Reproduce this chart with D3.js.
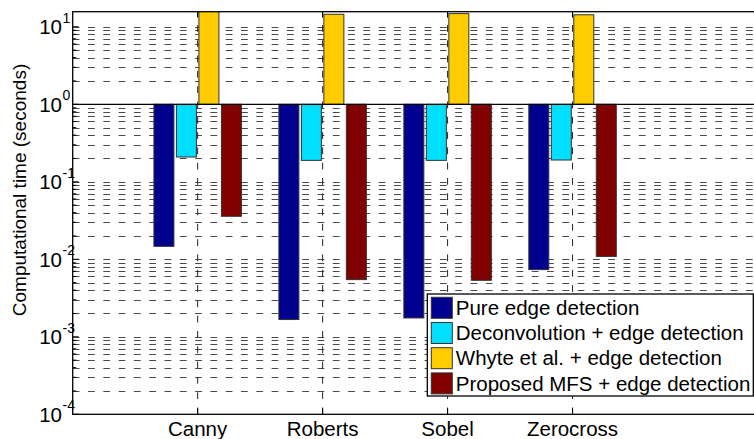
<!DOCTYPE html>
<html>
<head>
<meta charset="utf-8">
<script src="https://cdn.jsdelivr.net/npm/d3@7"></script>
<style>
  body { margin: 0; background: #fff; }
  svg { display: block; font-family: "Liberation Sans", Arial, sans-serif; }
</style>
</head>
<body>
<svg id="chart" width="754" height="439"></svg>
<script>
// data (seconds, log scale, bars grow from 10^0)
const categories = ["Canny", "Roberts", "Sobel", "Zerocross"];
const seriesNames = [
  "Pure edge detection",
  "Deconvolution + edge detection",
  "Whyte et al. + edge detection",
  "Proposed MFS + edge detection",
];
const pureEdge = [0.0147, 0.00167, 0.00175, 0.00736];
const deconv = [0.209, 0.189, 0.189, 0.191];
const whyte = [17, 14.5, 14.8, 14.3];
const proposed = [0.0359, 0.00547, 0.00536, 0.0109];
const tickExponents = [-4, -3, -2, -1, 0, 1];
const seriesColors = ["#00008f", "#00dfff", "#ffcc00", "#800000"];

const allSeries = [pureEdge, deconv, whyte, proposed];

const svg = d3.select("#chart");
const plotLeft = 72.7;
const plotTop = 11.7;
const plotBottom = 414.3;
const plotRight = 760;

const x = d3.scaleLinear().domain([0, 5.5]).range([plotLeft, plotRight]);
const y = d3.scaleLog().domain([1e-4, 15.66]).range([plotBottom, plotTop]);

const barWidth = 0.16;
const barStep = 0.18;
const dash = "6.8,8.5";

svg.append("clipPath").attr("id", "plotClip")
  .append("rect")
  .attr("x", plotLeft).attr("y", plotTop)
  .attr("width", plotRight - plotLeft).attr("height", plotBottom - plotTop);

const plot = svg.append("g").attr("clip-path", "url(#plotClip)");

//grid lines
const gridValues = y.ticks().filter((v) => v > 1.0001e-4 && Math.abs(v - 1) > 1e-9);
plot.selectAll(".hgrid")
  .data(gridValues)
  .join("line")
  .attr("x1", plotLeft).attr("x2", plotRight)
  .attr("y1", (d) => Math.round(y(d)) + 0.5)
  .attr("y2", (d) => Math.round(y(d)) + 0.5)
  .attr("stroke", "#4a4a4a")
  .attr("stroke-width", 1)
  .attr("stroke-dasharray", dash);

plot.selectAll(".vgrid")
  .data(categories)
  .join("line")
  .attr("x1", (d, i) => x(i + 1)).attr("x2", (d, i) => x(i + 1))
  .attr("y1", plotBottom).attr("y2", plotTop)
  .attr("stroke", "#222")
  .attr("stroke-width", 1)
  .attr("stroke-dasharray", dash);

//bars
allSeries.forEach((values, s) => {
  const offset = (s - 1.5) * barStep;
  plot.selectAll(".bar" + s)
    .data(values)
    .join("rect")
    .attr("x", (d, i) => x(i + 1 + offset - barWidth / 2))
    .attr("width", x(barWidth) - x(0))
    .attr("y", (d) => Math.min(y(d), y(1)))
    .attr("height", (d) => Math.abs(y(d) - y(1)))
    .attr("fill", seriesColors[s])
    .attr("stroke", "#333")
    .attr("stroke-width", 1);
});

// baseline at 10^0
svg.append("line")
  .attr("x1", plotLeft).attr("x2", plotRight)
  .attr("y1", y(1)).attr("y2", y(1))
  .attr("stroke", "#000")
  .attr("stroke-width", 1.2);

//axes box
svg.append("rect")
  .attr("x", plotLeft).attr("y", plotTop)
  .attr("width", plotRight - plotLeft).attr("height", plotBottom - plotTop)
  .attr("fill", "none")
  .attr("stroke", "#000")
  .attr("stroke-width", 1.3);

// y ticks (inside)
const isMajor = (v) => Math.abs(Math.log10(v) - Math.round(Math.log10(v))) < 1e-9;
svg.selectAll(".ytick")
  .data(y.ticks().filter((v) => v <= 15.66))
  .join("line")
  .attr("x1", plotLeft)
  .attr("x2", (d) => plotLeft + (isMajor(d) ? 6 : 3.5))
  .attr("y1", (d) => y(d)).attr("y2", (d) => y(d))
  .attr("stroke", "#000")
  .attr("stroke-width", 1);

// x ticks (inside, bottom and top)
categories.forEach((c, i) => {
  svg.append("line")
    .attr("x1", x(i + 1)).attr("x2", x(i + 1))
    .attr("y1", plotBottom).attr("y2", plotBottom - 6)
    .attr("stroke", "#000");
  svg.append("line")
    .attr("x1", x(i + 1)).attr("x2", x(i + 1))
    .attr("y1", plotTop).attr("y2", plotTop + 6)
    .attr("stroke", "#000");
});

// y tick labels 10^k
tickExponents.forEach((k) => {
  const ty = y(Math.pow(10, k));
  svg.append("text")
    .attr("x", 62)
    .attr("y", ty + 7.5)
    .attr("text-anchor", "end")
    .attr("font-size", 20.5)
    .text("10");
  svg.append("text")
    .attr("x", 62.5)
    .attr("y", ty - 4)
    .attr("font-size", 14)
    .text(String(k));
});

// x labels
svg.selectAll(".xlabel")
  .data(categories)
  .join("text")
  .attr("x", (d, i) => x(i + 1))
  .attr("y", 436)
  .attr("text-anchor", "middle")
  .attr("font-size", 20.5)
  .text((d) => d);

// y label
svg.append("text")
  .attr("transform", "translate(26,190) rotate(-90)")
  .attr("text-anchor", "middle")
  .attr("font-size", 19)
  .text("Computational time (seconds)");

//legend
const legendX = 427.3;
const legendY = 294;
const legendRow = 25.2;
svg.append("rect")
  .attr("x", legendX).attr("y", legendY)
  .attr("width", 326).attr("height", 102)
  .attr("fill", "#fff")
  .attr("stroke", "#000")
  .attr("stroke-width", 1.3);

seriesNames.forEach((name, s) => {
  const rowY = legendY + 3.3 + legendRow * s;
  svg.append("rect")
    .attr("x", legendX + 4).attr("y", rowY)
    .attr("width", 21).attr("height", 21)
    .attr("fill", seriesColors[s])
    .attr("stroke", "#333")
    .attr("stroke-width", 1);
  svg.append("text")
    .attr("x", legendX + 28.5)
    .attr("y", rowY + 17.7)
    .attr("font-size", 20.5)
    .text(name);
});
</script>
</body>
</html>
